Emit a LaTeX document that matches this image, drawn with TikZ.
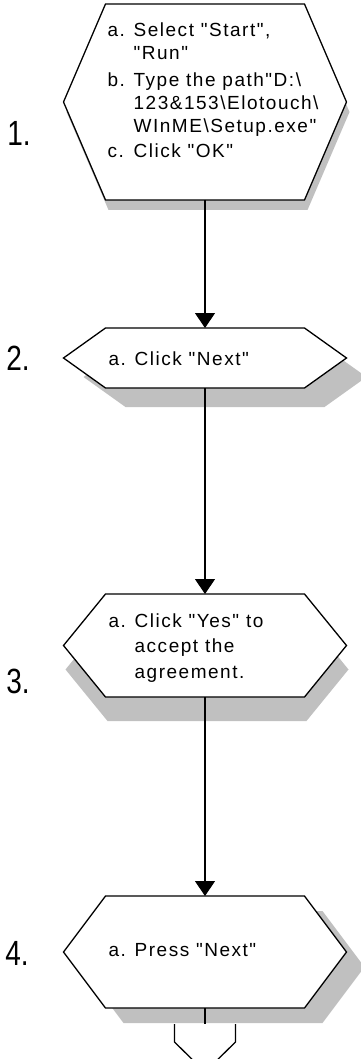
\documentclass[tikz,border=0pt]{standalone}
\usepackage{fontspec}
\setmainfont{Liberation Sans}
\newfontfamily\stepfont[LetterSpace=8]{Liberation Sans}
\newfontfamily\numfont[FakeStretch=0.8]{Liberation Sans}
\usetikzlibrary{arrows.meta}
\definecolor{shadowgrey}{RGB}{192,192,192}

\newcommand{\hexpath}[2]{([shift={#2}]#1.north west) -- ([shift={#2}]#1.north east) -- ([shift={#2},xshift=42pt]#1.east) -- ([shift={#2}]#1.south east) -- ([shift={#2}]#1.south west) -- ([shift={#2},xshift=-42pt]#1.west) -- cycle}
\newcommand{\stepitem}[1]{\makebox[26pt][l]{#1}}
\newcommand{\stepindent}{\hspace*{26pt}}

\begin{document}
\begin{tikzpicture}[x=1pt, y=-1pt, line width=1.3pt,
  stepbox/.style={minimum width=199pt, inner sep=0pt, outer sep=0pt},
  steptext/.style={anchor=north west, inner sep=0pt, align=left, font=\stepfont\fontsize{19}{23}\selectfont},
  stepnum/.style={font=\numfont\fontsize{35}{35}\selectfont, inner sep=0pt},
  flow/.style={-{Triangle[width=20pt,length=15pt]}}]
  \useasboundingbox (0,0) rectangle (361,1059);

  \node[stepbox, minimum height=196pt] (s1) at (205,102) {};
  \node[stepbox, minimum height=60pt] (s2) at (205,358) {};
  \node[stepbox, minimum height=103pt] (s3) at (205,645.5) {};
  \node[stepbox, minimum height=112pt] (s4) at (205,952) {};
  \coordinate (c5) at (205,1024);

  \draw[fill=white] ([xshift=-30.5pt]c5) -- ([shift={(-30.5,18)}]c5) -- ([yshift=-48pt]c5) -- ([shift={(30.5,18)}]c5) -- ([xshift=30.5pt]c5);

  \fill[shadowgrey] \hexpath{s1}{(3,10)};
  \filldraw[fill=white] \hexpath{s1}{(0,0)};
  \fill[shadowgrey] \hexpath{s2}{(20,19)};
  \filldraw[fill=white] \hexpath{s2}{(0,0)};
  \fill[shadowgrey] \hexpath{s3}{(2,24)};
  \filldraw[fill=white] \hexpath{s3}{(0,0)};
  \fill[shadowgrey] \hexpath{s4}{(18,15)};
  \filldraw[fill=white] \hexpath{s4}{(0,0)};

  \node[steptext] (t1) at (107,22) {\stepitem{a.}Select "Start",\\
    \stepindent"Run"\\[4pt]
    \stepitem{b.}Type the path"D:\textbackslash\\
    \stepindent 123\&153\textbackslash Elotouch\textbackslash\\
    \stepindent WInME\textbackslash Setup.exe"\\[2pt]
    \stepitem{c.}Click "OK"};
  \node[steptext] (t2) at (108,351) {\stepitem{a.}Click "Next"};
  \node[steptext, font=\stepfont\fontsize{19}{25.5}\selectfont] (t3) at (108,613) {\stepitem{a.}Click "Yes" to\\
    \stepindent accept the\\
    \stepindent agreement.};
  \node[steptext] (t4) at (108,943) {\stepitem{a.}Press "Next"};

  \node[stepnum] (n1) at (19,133) {1.};
  \node[stepnum] (n2) at (18,358) {2.};
  \node[stepnum] (n3) at (18,681) {3.};
  \node[stepnum] (n4) at (17,953) {4.};

  \draw[flow] (s1.south) -- (s2.north);
  \draw[flow] (s2.south) -- (s3.north);
  \draw[flow] (s3.south) -- (s4.north);
  \draw (s4.south) -- (c5);
\end{tikzpicture}
\end{document}
